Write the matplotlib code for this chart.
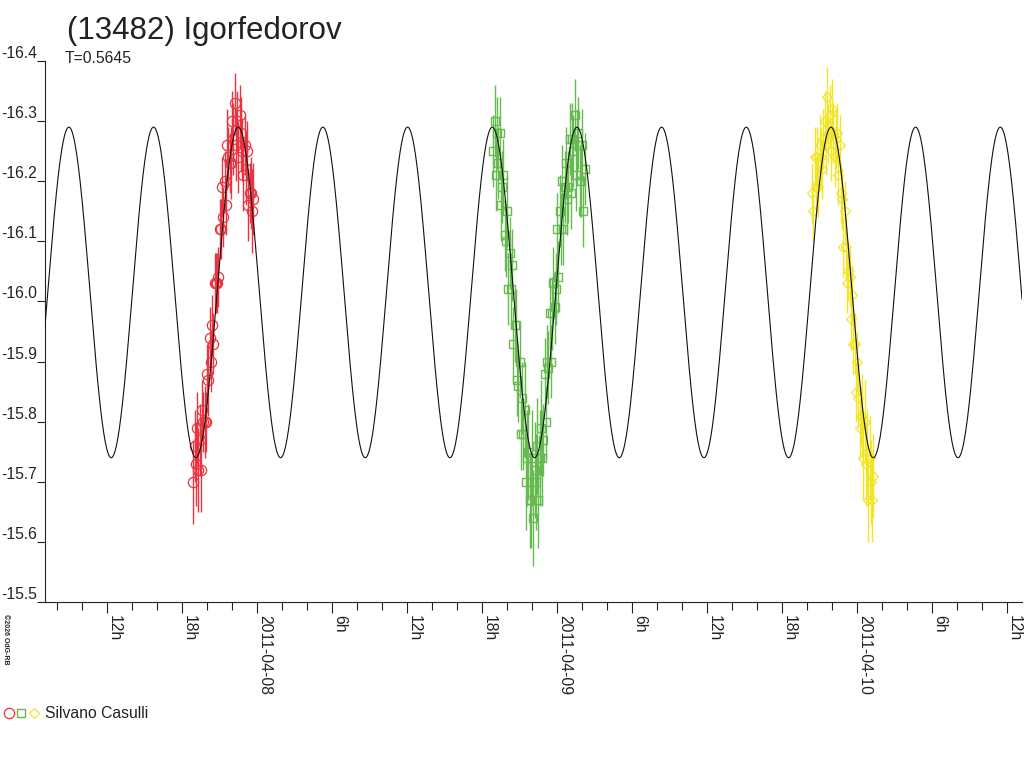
import numpy as np
import matplotlib
matplotlib.use('Agg')
import matplotlib.pyplot as plt
from matplotlib.ticker import FixedLocator, MultipleLocator, FormatStrFormatter
from matplotlib.lines import Line2D

plt.rcParams['font.family'] = ['Liberation Sans', 'DejaVu Sans']
plt.rcParams['axes.unicode_minus'] = False

# model: double-peaked light curve, period in days
period_days = 0.5645
peak_hour = -15.05         # hours from 2011-04-08 00:00 UT
mean_mag = -16.015
half_ampl = 0.275

# session 1 (red circles) - hours from 2011-04-08 00:00
red_t = [-5.10, -5.00, -4.90, -4.80, -4.70, -4.60, -4.50, -4.40, -4.30, -4.20,
         -4.10, -4.00, -3.90, -3.80, -3.70, -3.60, -3.50, -3.40, -3.30, -3.20,
         -3.10, -3.00, -2.90, -2.80, -2.70, -2.60, -2.50, -2.40, -2.30, -2.20,
         -2.10, -2.00, -1.90, -1.80, -1.70, -1.60, -1.50, -1.40, -1.30, -1.20,
         -1.10, -1.00, -0.90, -0.80, -0.70, -0.60, -0.50, -0.40, -0.30]
red_m = [-15.70, -15.76, -15.73, -15.79, -15.72, -15.77, -15.72, -15.82, -15.80, -15.80,
         -15.80, -15.88, -15.87, -15.94, -15.90, -15.96, -15.93, -16.03, -16.03, -16.03,
         -16.04, -16.12, -16.12, -16.19, -16.14, -16.20, -16.16, -16.26, -16.24, -16.23,
         -16.23, -16.30, -16.27, -16.33, -16.26, -16.30, -16.24, -16.31, -16.28, -16.25,
         -16.21, -16.26, -16.22, -16.25, -16.16, -16.18, -16.18, -16.15, -16.17]
red_e = [0.07, 0.06, 0.07, 0.06, 0.07, 0.06, 0.07, 0.05, 0.05, 0.06,
         0.05, 0.05, 0.06, 0.05, 0.05, 0.05, 0.05, 0.05, 0.05, 0.05,
         0.05, 0.05, 0.05, 0.05, 0.05, 0.05, 0.05, 0.06, 0.05, 0.05,
         0.06, 0.05, 0.06, 0.05, 0.06, 0.05, 0.06, 0.05, 0.06, 0.05,
         0.06, 0.05, 0.06, 0.05, 0.06, 0.05, 0.06, 0.07, 0.06]

# session 2 (green squares)
green_t = [18.9, 19.0, 19.1, 19.2, 19.3, 19.4, 19.5, 19.6, 19.7, 19.8,
           19.9, 20.0, 20.1, 20.2, 20.3, 20.4, 20.5, 20.6, 20.7, 20.8,
           20.9, 21.0, 21.1, 21.2, 21.3, 21.4, 21.5, 21.6, 21.7, 21.8,
           21.9, 22.0, 22.1, 22.2, 22.3, 22.4, 22.5, 22.6, 22.7, 22.8,
           22.9, 23.0, 23.1, 23.2, 23.3, 23.4, 23.5, 23.6, 23.7, 23.8,
           23.9, 24.0, 24.1, 24.2, 24.3, 24.4, 24.5, 24.6, 24.7, 24.8,
           24.9, 25.0, 25.1, 25.2, 25.3, 25.4, 25.5, 25.6, 25.7, 25.8,
           25.9, 26.0, 26.1, 26.2]
green_m = [-16.25, -16.30, -16.21, -16.28, -16.23, -16.28, -16.16, -16.19, -16.21, -16.11,
           -16.10, -16.15, -16.02, -16.08, -16.02, -16.06, -15.93, -15.96, -15.96, -15.87,
           -15.86, -15.90, -15.78, -15.84, -15.78, -15.82, -15.70, -15.74, -15.75, -15.67,
           -15.67, -15.74, -15.64, -15.72, -15.70, -15.76, -15.67, -15.74, -15.79, -15.74,
           -15.77, -15.88, -15.80, -15.90, -15.89, -15.98, -15.90, -15.98, -16.03, -15.99,
           -16.02, -16.12, -16.04, -16.15, -16.12, -16.20, -16.12, -16.19, -16.23, -16.17,
           -16.19, -16.27, -16.18, -16.27, -16.25, -16.31, -16.21, -16.26, -16.28, -16.20,
           -16.20, -16.26, -16.15, -16.22]
green_e = [0.06] * 25 + [0.08] * 15 + [0.06] * 34

# session 3 (yellow diamonds)
yellow_t = [44.4, 44.5, 44.6, 44.7, 44.8, 44.9, 45.0, 45.1, 45.2, 45.3,
            45.4, 45.5, 45.6, 45.7, 45.8, 45.9, 46.0, 46.1, 46.2, 46.3,
            46.4, 46.5, 46.6, 46.7, 46.8, 46.9, 47.0, 47.1, 47.2, 47.3,
            47.4, 47.5, 47.6, 47.7, 47.8, 47.9, 48.0, 48.1, 48.2, 48.3,
            48.4, 48.5, 48.6, 48.7, 48.8, 48.9, 49.0, 49.1, 49.2, 49.3]
yellow_m = [-16.18, -16.15, -16.24, -16.19, -16.24, -16.19, -16.26, -16.24, -16.22, -16.27,
            -16.30, -16.26, -16.34, -16.28, -16.31, -16.25, -16.32, -16.28, -16.24, -16.27,
            -16.28, -16.21, -16.26, -16.18, -16.17, -16.09, -16.15, -16.09, -16.03, -16.05,
            -16.04, -15.97, -16.01, -15.93, -15.93, -15.85, -15.90, -15.84, -15.79, -15.81,
            -15.81, -15.74, -15.80, -15.73, -15.75, -15.67, -15.74, -15.70, -15.67, -15.71]
yellow_e = [0.05] * 20 + [0.05] * 20 + [0.07] * 10

major_hours = [-12, -6, 0, 6, 12, 18, 24, 30, 36, 42, 48, 54, 60]
major_labels = ['12h', '18h', '2011-04-08', '6h', '12h', '18h', '2011-04-09',
                '6h', '12h', '18h', '2011-04-10', '6h', '12h']
y_ticks = [-16.4, -16.3, -16.2, -16.1, -16.0, -15.9, -15.8, -15.7, -15.6, -15.5]

red = '#EE3340'
green = '#66BB50'
yellow = '#F2E528'
txt = '#222222'

fig = plt.figure(figsize=(10.24, 7.68), dpi=100)
ax = fig.add_axes([45 / 1024, 1 - 602 / 768, 977 / 1024, 541 / 768])

x_lo, x_hi = -16.96, 61.2
tt = np.linspace(x_lo, x_hi, 3000)
model = mean_mag - half_ampl * np.cos(2 * np.pi * (tt - peak_hour) / (period_days * 24 / 2))

ax.errorbar(red_t, red_m, yerr=red_e, fmt='o', ms=7.4, mfc='none', mec=red, mew=0.9,
            ecolor=red, elinewidth=1.0, capsize=0, zorder=2)
ax.errorbar(green_t, green_m, yerr=green_e, fmt='s', ms=5.6, mfc='none', mec=green, mew=1.0,
            ecolor=green, elinewidth=1.0, capsize=0, zorder=2)
ax.errorbar(yellow_t, yellow_m, yerr=yellow_e, fmt='D', ms=5.4, mfc='none', mec=yellow, mew=0.9,
            ecolor=yellow, elinewidth=1.0, capsize=0, zorder=2)
ax.plot(tt, model, color='#111111', lw=0.8, zorder=3)

ax.set_xlim(x_lo, x_hi)
ax.set_ylim(-15.5, -16.4)

for s in ['top', 'right']:
    ax.spines[s].set_visible(False)
for s in ['left', 'bottom']:
    ax.spines[s].set_linewidth(0.8)
    ax.spines[s].set_color('#222222')

ax.yaxis.set_major_locator(FixedLocator(y_ticks))
ax.yaxis.set_major_formatter(FormatStrFormatter('%.1f'))
ax.tick_params(axis='y', length=5.8, width=0.8, pad=0, labelsize=11.3, labelcolor=txt, color='#222222')
for lab in ax.get_yticklabels():
    lab.set_va('bottom')

ax.set_xticks(major_hours)
ax.set_xticklabels(major_labels, rotation=270, ha='left', va='top')
ax.xaxis.set_minor_locator(MultipleLocator(2))
ax.tick_params(axis='x', which='major', length=8, width=0.8, pad=1.5, labelsize=11.3,
               labelcolor=txt, color='#222222')
ax.tick_params(axis='x', which='minor', length=5.8, width=0.8, color='#222222')

fig.text(67 / 1024, 1 - 39 / 768, '(13482) Igorfedorov', fontsize=22.5, color=txt, va='baseline')
fig.text(65 / 1024, 1 - 63 / 768, 'T=0.5645', fontsize=11.3, color=txt, va='baseline')
fig.text(5 / 1024, 1 - 614 / 768, '\u00a92026 OdG-RB', fontsize=5, rotation=270,
         ha='center', va='top', color=txt, weight='bold')

# legend: observer symbols
fig.add_artist(Line2D([9 / 1024], [1 - 713 / 768], marker='o', ms=7.4, mfc='none', mec=red, mew=0.9,
                      transform=fig.transFigure))
fig.add_artist(Line2D([21 / 1024], [1 - 713 / 768], marker='s', ms=5.6, mfc='none', mec=green, mew=1.0,
                      transform=fig.transFigure))
fig.add_artist(Line2D([33.5 / 1024], [1 - 713 / 768], marker='D', ms=5.4, mfc='none', mec=yellow, mew=0.9,
                      transform=fig.transFigure))
fig.text(45 / 1024, 1 - 718 / 768, 'Silvano Casulli', fontsize=11.3, color=txt, va='baseline')

plt.savefig('out.png', dpi=100)
